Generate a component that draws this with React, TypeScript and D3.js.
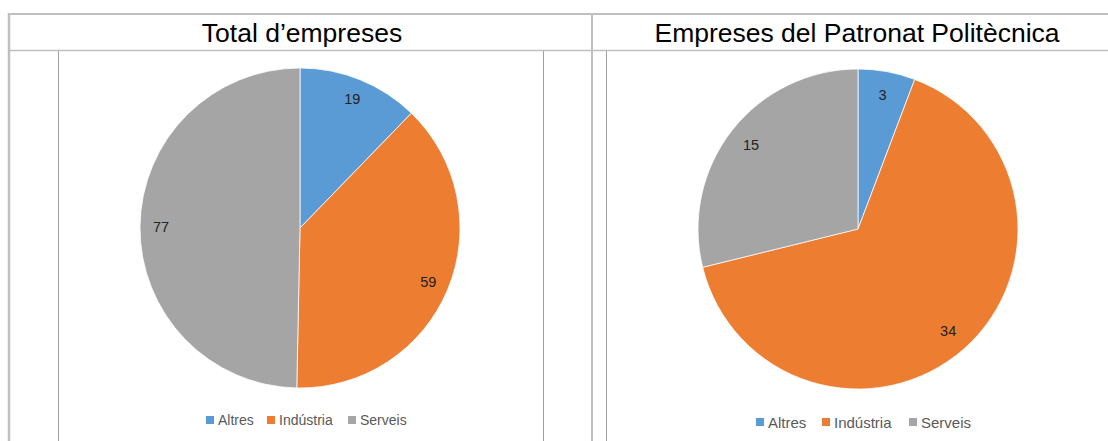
import React from "react";
import * as d3 from "d3";

const categories = ["Altres", "Indústria", "Serveis"];
const totalValues = [19, 59, 77];
const patronatValues = [3, 34, 15];
const titles = ["Total d’empreses", "Empreses del Patronat Politècnica"];
const colors = ["#5b9bd5", "#ed7d31", "#a5a5a5"];

const FONT = "'Liberation Sans', Arial, sans-serif";

type PieProps = {
  values: number[];
  cx: number;
  cy: number;
  r: number;
  labelR: number;
  legendY: number;
  legendX: number;
  legendFont: number;
  legendGaps: number[];
};

function Pie({ values, cx, cy, r, labelR, legendY, legendX, legendFont, legendGaps }: PieProps) {
  const pie = d3.pie<number>().sort(null).value((d) => d);
  const arcs = pie(values);
  const arc = d3.arc<d3.PieArcDatum<number>>().innerRadius(0).outerRadius(r);
  const labelArc = d3.arc<d3.PieArcDatum<number>>().innerRadius(labelR).outerRadius(labelR);
  let x = legendX;
  const legendItems = categories.map((c, i) => {
    const item = { c, i, x };
    x += legendGaps[i];
    return item;
  });
  return (
    <g>
      <g transform={`translate(${cx},${cy})`}>
        {arcs.map((a, i) => (
          <path key={i} d={arc(a) || ""} fill={colors[i]} stroke="#fff" strokeWidth={0.75} />
        ))}
        {arcs.map((a, i) => {
          const [lx, ly] = labelArc.centroid(a);
          return (
            <text key={i} x={lx} y={ly} textAnchor="middle" dominantBaseline="central" fontFamily={FONT} fontSize={14.5} fill="#222">
              {values[i]}
            </text>
          );
        })}
      </g>
      {legendItems.map(({ c, i, x }) => (
        <g key={c} transform={`translate(${x},${legendY})`}>
          <rect x={0} y={-4} width={8} height={8} fill={colors[i]} />
          <text x={12} y={0} dominantBaseline="central" fontFamily={FONT} fontSize={legendFont} fill="#595959">
            {c}
          </text>
        </g>
      ))}
    </g>
  );
}

export default function App() {
  const border = "#bfbfbf";
  const frame = "#a0a0a0";
  return (
    <svg width={1108} height={441} style={{ position: "absolute", left: 0, top: 0, background: "#fff" }}>
      <rect x={0} y={0} width={1108} height={441} fill="#fff" />
      {/* chart frames */}
      <line x1={58.5} y1={50} x2={58.5} y2={441} stroke={frame} strokeWidth={1} />
      <line x1={543.5} y1={50} x2={543.5} y2={441} stroke={frame} strokeWidth={1} />
      <line x1={606.5} y1={50} x2={606.5} y2={441} stroke={frame} strokeWidth={1} />
      {/* table borders */}
      <line x1={9} y1={14} x2={1108} y2={14} stroke={border} strokeWidth={2} />
      <line x1={9} y1={13} x2={9} y2={441} stroke={border} strokeWidth={2.5} />
      <line x1={592} y1={13} x2={592} y2={441} stroke={border} strokeWidth={2} />
      <line x1={9} y1={50.5} x2={1108} y2={50.5} stroke={border} strokeWidth={1.5} />
      <text x={302} y={33} textAnchor="middle" dominantBaseline="central" fontFamily={FONT} fontSize={26.5} fill="#000">
        {titles[0]}
      </text>
      <text x={857} y={33} textAnchor="middle" dominantBaseline="central" fontFamily={FONT} fontSize={26.5} fill="#000">
        {titles[1]}
      </text>
      <Pie values={totalValues} cx={300} cy={228} r={160} labelR={139} legendY={420} legendX={206} legendFont={14} legendGaps={[61, 81, 0]} />
      <Pie values={patronatValues} cx={858} cy={229} r={160} labelR={136} legendY={422} legendX={756} legendFont={15} legendGaps={[66, 87, 0]} />
    </svg>
  );
}
